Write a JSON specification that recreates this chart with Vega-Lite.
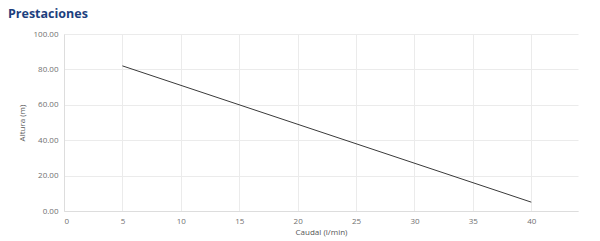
{
  "$schema": "https://vega.github.io/schema/vega-lite/v6.json",
  "autosize": {"type": "none"},
  "width": 514,
  "height": 177,
  "padding": {"left": 64, "top": 34, "right": 22, "bottom": 30},
  "background": "white",
  "title": {
    "text": "Prestaciones",
    "anchor": "start",
    "frame": "group",
    "dx": -56,
    "offset": 10,
    "font": "Open Sans",
    "fontSize": 12.5,
    "fontWeight": "bold",
    "color": "#1d3f7e"
  },
  "data": {"values": [
    {"caudal": 5, "altura": 82},
    {"caudal": 40, "altura": 5}
  ]},
  "mark": {"type": "line", "color": "#3a3a3a", "strokeWidth": 1},
  "encoding": {
    "x": {
      "field": "caudal", "type": "quantitative",
      "scale": {"domain": [0, 44], "nice": false},
      "axis": {"values": [0,5,10,15,20,25,30,35,40], "title": "Caudal (l/min)", "format": "d"}
    },
    "y": {
      "field": "altura", "type": "quantitative",
      "scale": {"domain": [0, 100], "nice": false},
      "axis": {"values": [0,20,40,60,80,100], "title": "Altura (m)", "format": ".2f"}
    }
  },
  "config": {
    "view": {"stroke": null},
    "axis": {
      "labelFont": "Open Sans",
      "titleFont": "Open Sans",
      "labelFontSize": 8,
      "titleFontSize": 8,
      "titleFontWeight": "normal",
      "labelColor": "#707070",
      "titleColor": "#555555",
      "gridColor": "#ebebeb",
      "domainColor": "#dddddd",
      "ticks": false,
      "labelPadding": 6
    },
    "axisY": {"titlePadding": 7},
    "axisX": {"titlePadding": 3}
  }
}
